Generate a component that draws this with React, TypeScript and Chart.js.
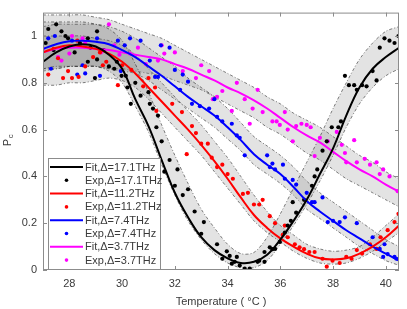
import React, { useEffect, useRef } from 'react';
import { Chart, registerables } from 'chart.js';

Chart.register(...registerables);

// ---------- data ----------
const temps = [27.0, 27.5, 28.0, 28.5, 29.0, 29.5, 30.0, 30.5, 31.0, 31.5, 32.0, 32.5, 33.0, 33.5,
  34.0, 34.5, 35.0, 35.5, 36.0, 36.5, 37.0, 37.5, 38.0, 38.5, 39.0, 39.5, 40.0, 40.5];

const fit171 = [0.89, 0.93, 0.955, 0.965, 0.955, 0.92, 0.86, 0.73, 0.615, 0.47, 0.33, 0.225, 0.14, 0.085,
  0.05, 0.03, 0.035, 0.065, 0.13, 0.21, 0.30, 0.41, 0.52, 0.66, 0.78, 0.86, 0.91, 0.95];
const fit112 = [0.93, 0.95, 0.96, 0.955, 0.945, 0.925, 0.89, 0.84, 0.78, 0.72, 0.66, 0.60, 0.535, 0.465,
  0.39, 0.31, 0.235, 0.18, 0.135, 0.10, 0.07, 0.05, 0.045, 0.05, 0.07, 0.10, 0.14, 0.19];
const fit74 = [0.945, 0.965, 0.978, 0.98, 0.975, 0.965, 0.94, 0.91, 0.87, 0.83, 0.785, 0.74, 0.70, 0.66,
  0.61, 0.555, 0.495, 0.45, 0.41, 0.355, 0.295, 0.25, 0.21, 0.17, 0.135, 0.10, 0.07, 0.04];
const fit37 = [0.93, 0.945, 0.95, 0.95, 0.945, 0.94, 0.93, 0.92, 0.91, 0.90, 0.88, 0.86, 0.835, 0.81,
  0.78, 0.755, 0.725, 0.69, 0.65, 0.61, 0.575, 0.545, 0.505, 0.465, 0.43, 0.40, 0.365, 0.335];

const band171Low = [0.86, 0.87, 0.87, 0.87, 0.87, 0.85, 0.80, 0.70, 0.59, 0.45, 0.32, 0.21, 0.13, 0.07,
  0.03, 0.01, 0.01, 0.04, 0.11, 0.19, 0.28, 0.38, 0.49, 0.61, 0.71, 0.78, 0.83, 0.86];
const band171High = [1.06, 1.06, 1.06, 1.06, 1.05, 1.03, 0.98, 0.88, 0.76, 0.62, 0.49, 0.37, 0.26, 0.18,
  0.11, 0.07, 0.075, 0.14, 0.24, 0.35, 0.46, 0.57, 0.69, 0.80, 0.90, 0.97, 1.02, 1.04];
const band112Low = [0.79, 0.79, 0.80, 0.80, 0.81, 0.82, 0.81, 0.78, 0.73, 0.67, 0.61, 0.55, 0.49, 0.42,
  0.35, 0.28, 0.21, 0.16, 0.12, 0.08, 0.05, 0.03, 0.025, 0.03, 0.05, 0.08, 0.12, 0.16];
const band112High = [1.00, 1.00, 1.00, 1.00, 0.99, 0.98, 0.96, 0.92, 0.86, 0.80, 0.74, 0.68, 0.62, 0.55,
  0.48, 0.40, 0.32, 0.25, 0.19, 0.15, 0.11, 0.09, 0.08, 0.085, 0.10, 0.14, 0.19, 0.24];
const band74Low = [0.85, 0.86, 0.87, 0.87, 0.87, 0.86, 0.85, 0.84, 0.81, 0.77, 0.73, 0.69, 0.65, 0.61,
  0.56, 0.51, 0.45, 0.41, 0.37, 0.32, 0.26, 0.22, 0.18, 0.14, 0.10, 0.07, 0.04, 0.02];
const band74High = [1.04, 1.05, 1.05, 1.05, 1.05, 1.04, 1.02, 0.99, 0.95, 0.91, 0.87, 0.82, 0.78, 0.74,
  0.69, 0.63, 0.57, 0.53, 0.49, 0.44, 0.38, 0.33, 0.29, 0.25, 0.21, 0.17, 0.13, 0.10];
const band37Low = [0.86, 0.86, 0.87, 0.87, 0.87, 0.86, 0.86, 0.85, 0.84, 0.83, 0.81, 0.79, 0.77, 0.74,
  0.71, 0.68, 0.65, 0.61, 0.58, 0.54, 0.50, 0.47, 0.43, 0.39, 0.36, 0.33, 0.30, 0.27];
const band37High = [1.09, 1.09, 1.09, 1.09, 1.08, 1.07, 1.05, 1.03, 1.01, 0.99, 0.96, 0.93, 0.90, 0.87,
  0.84, 0.81, 0.78, 0.74, 0.71, 0.67, 0.64, 0.61, 0.57, 0.53, 0.49, 0.46, 0.42, 0.39];

const exp171 = [[27.1, 0.97], [27.2, 1.03], [27.4, 0.94], [27.5, 1.05], [27.7, 1.02], [27.85, 1.0], [27.95, 0.99],
  [28.2, 0.93], [28.4, 0.97], [28.7, 0.99], [28.7, 0.89], [28.8, 0.95], [28.97, 0.82], [29.05, 1.02], [29.05, 0.9],
  [29.3, 0.94], [29.5, 0.87], [29.7, 0.86], [29.8, 0.89], [29.98, 0.83], [30.14, 0.83], [30.2, 0.78], [30.33, 0.71],
  [30.5, 0.8], [30.7, 0.745], [31.0, 0.76], [31.05, 0.71], [31.17, 0.69], [31.3, 0.61], [31.36, 0.66], [31.5, 0.55],
  [31.6, 0.42], [31.8, 0.47], [32.0, 0.36], [32.1, 0.43], [32.3, 0.32], [32.5, 0.345], [32.75, 0.25], [33.0, 0.155],
  [33.1, 0.205], [33.6, 0.11], [33.8, 0.048], [33.97, 0.08], [34.08, 0.06], [34.16, 0.027], [34.27, 0.035],
  [34.35, 0.056], [34.46, 0.019], [34.65, 0.006], [34.84, 0.006], [35.14, 0.035], [35.2, 0.04], [35.4, 0.035],
  [35.4, 0.077], [35.6, 0.097], [35.7, 0.089], [35.8, 0.09], [35.98, 0.12], [36.17, 0.16], [36.28, 0.19],
  [36.4, 0.21], [36.47, 0.29], [36.6, 0.245], [36.9, 0.3], [37.2, 0.36], [37.3, 0.4], [37.4, 0.43], [37.6, 0.51],
  [37.76, 0.55], [37.95, 0.61], [38.2, 0.61], [38.3, 0.635], [38.45, 0.83], [38.6, 0.79], [38.8, 0.79],
  [38.9, 0.77], [39.1, 0.79], [39.27, 0.785], [39.5, 0.85], [39.65, 0.81], [39.77, 0.95], [39.95, 0.99],
  [40.14, 0.98], [40.33, 0.97], [40.48, 1.0]];

const exp112 = [[27.2, 0.835], [27.4, 0.945], [27.57, 0.905], [27.76, 0.82], [27.95, 0.85], [28.1, 0.82],
  [28.3, 0.98], [28.35, 0.825], [28.6, 0.87], [28.9, 0.91], [29.16, 0.93], [29.27, 0.875], [29.4, 0.89],
  [29.84, 0.79], [30.0, 0.875], [30.35, 0.855], [30.8, 0.785], [31.0, 0.82], [31.25, 0.78], [31.3, 0.68],
  [31.9, 0.71], [32.27, 0.675], [32.45, 0.495], [32.65, 0.615], [32.8, 0.585], [33.0, 0.54], [33.25, 0.54],
  [33.4, 0.48], [33.6, 0.44], [33.8, 0.45], [34.0, 0.41], [34.2, 0.39], [34.58, 0.325], [34.77, 0.33],
  [35.0, 0.28], [35.2, 0.28], [35.33, 0.3], [35.6, 0.23], [35.8, 0.2], [36.09, 0.15], [36.17, 0.19],
  [36.28, 0.14], [36.55, 0.11], [36.73, 0.097], [36.9, 0.089], [37.1, 0.077], [37.3, 0.077], [37.6, 0.048],
  [37.76, 0.014], [37.98, 0.04], [38.25, 0.03], [38.5, 0.056], [38.7, 0.048], [38.9, 0.085], [39.1, 0.07],
  [39.4, 0.11], [39.65, 0.09], [39.8, 0.14], [40.07, 0.17], [40.33, 0.205], [40.48, 0.24]];

const exp74 = [[27.2, 0.99], [27.3, 0.86], [27.45, 1.0], [28.1, 0.98], [28.3, 0.835], [28.5, 0.875], [28.6, 0.84],
  [29.05, 0.99], [29.16, 0.83], [29.84, 0.98], [29.95, 0.85], [30.1, 0.96], [30.3, 0.99], [30.7, 0.98],
  [31.05, 0.895], [31.25, 0.825], [31.36, 0.825], [31.47, 0.96], [31.8, 0.95], [32.0, 0.855], [32.2, 0.77],
  [32.3, 0.835], [32.5, 0.805], [32.65, 0.71], [32.95, 0.7], [33.3, 0.69], [33.5, 0.73], [33.6, 0.655],
  [33.8, 0.635], [34.16, 0.625], [34.35, 0.575], [34.46, 0.565], [34.65, 0.49], [35.5, 0.49], [35.6, 0.44],
  [35.7, 0.455], [35.8, 0.43], [36.1, 0.45], [36.17, 0.39], [36.47, 0.385], [36.6, 0.365], [37.0, 0.33],
  [37.2, 0.29], [37.3, 0.29], [37.6, 0.31], [37.8, 0.205], [38.0, 0.21], [38.25, 0.205], [38.45, 0.225],
  [38.9, 0.2], [39.5, 0.14], [39.77, 0.09], [39.9, 0.056], [39.95, 0.11], [40.07, 0.068], [40.33, 0.056],
  [40.4, 0.048]];

const exp37 = [[27.0, 0.945], [27.57, 0.91], [27.7, 0.895], [28.0, 0.925], [28.1, 1.0], [28.5, 0.99], [28.6, 0.97],
  [29.2, 0.93], [29.5, 1.05], [29.7, 0.96], [29.9, 0.92], [30.3, 0.925], [30.6, 0.95], [30.9, 0.88], [31.36, 0.895],
  [31.5, 0.96], [31.6, 0.925], [32.0, 0.93], [32.3, 0.85], [32.8, 0.82], [33.0, 0.875], [33.3, 0.85], [33.44, 0.73],
  [33.6, 0.74], [33.8, 0.765], [34.16, 0.68], [34.35, 0.8], [34.65, 0.73], [34.84, 0.625], [34.95, 0.69],
  [35.14, 0.77], [35.33, 0.675], [35.7, 0.635], [35.86, 0.635], [35.98, 0.62], [36.17, 0.675], [36.28, 0.6],
  [36.47, 0.55], [36.6, 0.615], [36.8, 0.625], [37.0, 0.62], [37.15, 0.61], [37.3, 0.487], [37.5, 0.565],
  [37.8, 0.55], [38.14, 0.59], [38.33, 0.535], [38.45, 0.5], [38.5, 0.46], [38.8, 0.555], [38.9, 0.46],
  [39.2, 0.475], [39.4, 0.45], [39.65, 0.46], [39.77, 0.41], [39.9, 0.43], [40.14, 0.4], [40.45, 0.337]];

const xTicks = [28, 30, 32, 34, 36, 38, 40];
const yTicks = [0, 0.2, 0.4, 0.6, 0.8, 1];
const yTickLabels = ['0', '0.2', '0.4', '0.6', '0.8', '1'];
const fitLabels = ['Fit,\u0394=17.1THz', 'Fit,\u0394=11.2THz', 'Fit,\u0394=7.4THz', 'Fit,\u0394=3.7THz'];
const expLabels = ['Exp,\u0394=17.1THz', 'Exp,\u0394=11.2THz', 'Exp,\u0394=7.4THz', 'Exp,\u0394=3.7THz'];
const xTitle = 'Temperature ( \u00B0C )';
const yTitleMain = 'P';
const yTitleSub = 'c';

// ---------- styles ----------
const colors = ['#000000', '#ff0000', '#0000ff', '#ff00ff'];
const FONT = '"Liberation Sans", Arial, Helvetica, sans-serif';
const frameColor = '#8c8c8c';
const textColor = '#3a3a3a';

const toXY = (ys: number[]) => ys.map((y, i) => ({ x: temps[i], y }));
const pairs = (p: number[][]) => p.map(([x, y]) => ({ x, y }));

const decor = {
  id: 'decor',
  afterDraw(chart: any) {
    const { ctx, chartArea: a, scales } = chart;
    const xs = scales.x;
    const ys = scales.y;
    ctx.save();
    // frame
    ctx.strokeStyle = frameColor;
    ctx.lineWidth = 1;
    ctx.strokeRect(a.left + 0.5, a.top + 0.5, a.right - a.left - 1, a.bottom - a.top - 1);
    // inward ticks
    ctx.beginPath();
    xTicks.forEach((v) => {
      const px = Math.round(xs.getPixelForValue(v)) + 0.5;
      ctx.moveTo(px, a.bottom); ctx.lineTo(px, a.bottom - 4);
      ctx.moveTo(px, a.top); ctx.lineTo(px, a.top + 4);
    });
    yTicks.forEach((v) => {
      const py = Math.round(ys.getPixelForValue(v)) + 0.5;
      ctx.moveTo(a.left, py); ctx.lineTo(a.left + 4, py);
      ctx.moveTo(a.right, py); ctx.lineTo(a.right - 4, py);
    });
    ctx.stroke();

    // axis titles
    ctx.fillStyle = textColor;
    ctx.font = `11px ${FONT}`;
    ctx.textAlign = 'center';
    ctx.textBaseline = 'middle';
    ctx.fillText(xTitle, (a.left + a.right) / 2, 302);

    ctx.save();
    ctx.translate(7.5, (a.top + a.bottom) / 2);
    ctx.rotate(-Math.PI / 2);
    ctx.textAlign = 'left';
    ctx.font = `11px ${FONT}`;
    ctx.fillText(yTitleMain, -5, 0);
    ctx.font = `8px ${FONT}`;
    ctx.fillText(yTitleSub, 3, 3.5);
    ctx.restore();

    // legend
    const lx = 48, ly = 158, lw = 112, lh = 111;
    ctx.fillStyle = '#ffffff';
    ctx.fillRect(lx, ly, lw, lh);
    ctx.strokeStyle = frameColor;
    ctx.lineWidth = 1;
    ctx.strokeRect(lx + 0.5, ly + 0.5, lw, lh);
    ctx.font = `11px ${FONT}`;
    ctx.textAlign = 'left';
    ctx.textBaseline = 'middle';
    for (let s = 0; s < 4; s++) {
      const yFit = ly + 9 + s * 2 * 13.3;
      const yExp = yFit + 13.3;
      ctx.strokeStyle = colors[s];
      ctx.lineWidth = 2;
      ctx.beginPath();
      ctx.moveTo(50, yFit); ctx.lineTo(83, yFit);
      ctx.stroke();
      ctx.fillStyle = colors[s];
      ctx.beginPath();
      ctx.arc(66.5, yExp, 1.8, 0, Math.PI * 2);
      ctx.fill();
      ctx.fillStyle = textColor;
      ctx.fillText(fitLabels[s], 85, yFit + 0.5);
      ctx.fillText(expLabels[s], 85, yExp + 0.5);
    }
    ctx.restore();
  },
};

export default function App() {
  const ref = useRef<HTMLCanvasElement>(null);
  useEffect(() => {
    const canvas = ref.current;
    if (!canvas) return;
    const lows = [band171Low, band112Low, band74Low, band37Low];
    const highs = [band171High, band112High, band74High, band37High];
    const fits = [fit171, fit112, fit74, fit37];
    const exps = [exp171, exp112, exp74, exp37];
    const datasets: any[] = [];
    for (let s = 0; s < 4; s++) {
      const common = {
        pointRadius: 0,
        borderColor: 'rgba(40,40,40,0.85)',
        borderWidth: 0.7,
        borderDash: [3, 2, 1, 2],
        tension: 0.3,
        order: 3,
      };
      datasets.push({ ...common, label: 'lo' + s, data: toXY(lows[s]), fill: false });
      datasets.push({ ...common, label: 'hi' + s, data: toXY(highs[s]), fill: '-1', backgroundColor: 'rgba(128,128,128,0.22)' });
    }
    for (let s = 0; s < 4; s++) {
      datasets.push({
        label: expLabels[s],
        data: pairs(exps[s]),
        showLine: false,
        pointRadius: 2.1,
        pointBorderWidth: 0,
        pointBackgroundColor: colors[s],
        borderColor: colors[s],
        order: 2,
      });
    }
    for (let s = 0; s < 4; s++) {
      datasets.push({
        label: fitLabels[s],
        data: toXY(fits[s]),
        borderColor: colors[s],
        borderWidth: 2,
        pointRadius: 0,
        tension: 0.4,
        fill: false,
        order: 1,
      });
    }
    const chart = new Chart(canvas, {
      type: 'line',
      data: { datasets },
      options: {
        animation: false,
        responsive: false,
        devicePixelRatio: 1,
        layout: { padding: { top: 5, right: 8, left: 0, bottom: 0 } },
        plugins: { legend: { display: false }, tooltip: { enabled: false } },
        scales: {
          x: {
            type: 'linear',
            min: 27,
            max: 40.5,
            grid: { display: false, drawTicks: false },
            border: { display: false },
            afterBuildTicks: (sc: any) => { sc.ticks = xTicks.map((v) => ({ value: v })); },
            afterFit: (sc: any) => { sc.height = 39; },
            ticks: {
              padding: 7,
              color: textColor,
              font: { family: FONT, size: 11 },
              maxRotation: 0,
              autoSkip: false,
              callback: (v: any) => String(v),
            },
          },
          y: {
            type: 'linear',
            min: 0,
            max: 1.1,
            grid: { display: false, drawTicks: false },
            border: { display: false },
            afterBuildTicks: (sc: any) => { sc.ticks = yTicks.map((v) => ({ value: v })); },
            afterFit: (sc: any) => { sc.width = 43; },
            ticks: {
              padding: 6,
              color: textColor,
              font: { family: FONT, size: 11 },
              autoSkip: false,
              callback: (_v: any, i: number) => yTickLabels[i],
            },
          },
        },
      },
      plugins: [decor],
    });
    return () => chart.destroy();
  }, []);
  return (
    <div style={{ position: 'fixed', left: 0, top: 0, width: 407, height: 309, background: '#ffffff' }}>
      <canvas ref={ref} width={407} height={309} style={{ display: 'block', width: 407, height: 309 }} />
    </div>
  );
}
